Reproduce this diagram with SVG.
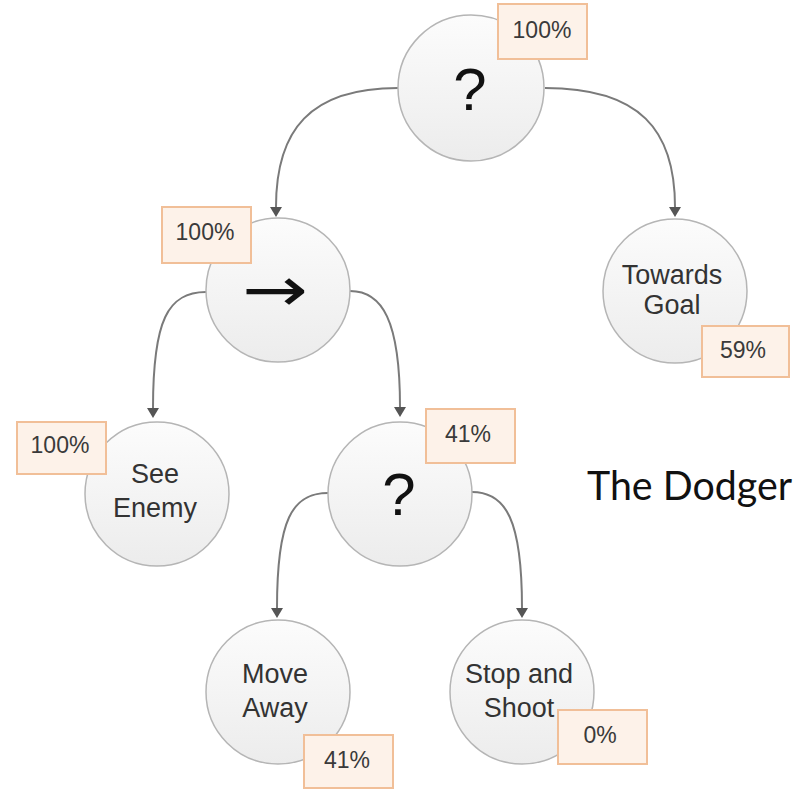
<svg xmlns="http://www.w3.org/2000/svg" width="804" height="791" viewBox="0 0 804 791">
<defs>
<linearGradient id="g" x1="0" y1="0" x2="0" y2="1">
<stop offset="0" stop-color="#fcfcfc"/>
<stop offset="1" stop-color="#ececec"/>
</linearGradient>
<marker id="arr" viewBox="0 0 10 12" refX="0" refY="6" markerWidth="10" markerHeight="12" markerUnits="userSpaceOnUse" orient="auto">
<path d="M0,0 L10,6 L0,12 Z" fill="#555"/>
</marker>
<style>
.c{fill:url(#g);stroke:#b5b5b5;stroke-width:1.5}
.e{fill:none;stroke:#7a7a7a;stroke-width:2}
.b{fill:#fdf2e9;stroke:#f1bf98;stroke-width:2}
.t{font-family:"Liberation Sans",Arial,sans-serif;font-size:27px;fill:#333;text-anchor:middle}
.q{font-family:"Liberation Sans",Arial,sans-serif;font-size:60px;fill:#111;text-anchor:middle}
.p{font-family:"Liberation Sans",Arial,sans-serif;font-size:23px;fill:#3a3a3a;text-anchor:middle}
</style>
</defs>
<rect width="804" height="791" fill="#fff"/>
<g id="connectors">
<path class="e" d="M398,88 C310,88 276,130 276,207" marker-end="url(#arr)"/>
<path class="e" d="M545,88 C640,88 675,130 675,207" marker-end="url(#arr)"/>
<path class="e" d="M206,292 C168,292 153,320 153,408" marker-end="url(#arr)"/>
<path class="e" d="M350,291 C382,291 400,320 400,407" marker-end="url(#arr)"/>
<path class="e" d="M328,493 C292,493 277,520 277,608" marker-end="url(#arr)"/>
<path class="e" d="M472,492 C506,492 522,520 522,608" marker-end="url(#arr)"/>
</g>
<g id="root">
<circle class="c" cx="471" cy="88" r="73"/>
<text class="q" x="470" y="110">?</text>
<rect class="b" x="498" y="4" width="89" height="55"/>
<text class="p" x="542" y="38">100%</text>
</g>
<g id="sequence">
<circle class="c" cx="278" cy="290" r="72"/>
<text x="275" y="311" font-family="DejaVu Sans,sans-serif" font-size="62" fill="#111" text-anchor="middle" textLength="66" lengthAdjust="spacingAndGlyphs">→</text>
<rect class="b" x="162" y="207" width="89" height="56"/>
<text class="p" x="205" y="240">100%</text>
</g>
<g id="towards-goal">
<circle class="c" cx="675" cy="291" r="72"/>
<text class="t" x="672" y="284">Towards</text>
<text class="t" x="672" y="314">Goal</text>
<rect class="b" x="702" y="326" width="87" height="51"/>
<text class="p" x="743" y="358">59%</text>
</g>
<g id="see-enemy">
<circle class="c" cx="157" cy="494" r="72"/>
<text class="t" x="155" y="483">See</text>
<text class="t" x="155" y="517">Enemy</text>
<rect class="b" x="17" y="422" width="89" height="52"/>
<text class="p" x="60" y="453">100%</text>
</g>
<g id="selector">
<circle class="c" cx="400" cy="494" r="72"/>
<text class="q" x="399" y="515">?</text>
<rect class="b" x="426" y="409" width="89" height="54"/>
<text class="p" x="468" y="442">41%</text>
</g>
<g id="move-away">
<circle class="c" cx="278" cy="692" r="72"/>
<text class="t" x="275" y="683">Move</text>
<text class="t" x="275" y="717">Away</text>
<rect class="b" x="304" y="735" width="89" height="53"/>
<text class="p" x="347" y="768">41%</text>
</g>
<g id="stop-and-shoot">
<circle class="c" cx="522" cy="692" r="72"/>
<text class="t" x="519" y="683">Stop and</text>
<text class="t" x="519" y="717">Shoot</text>
<rect class="b" x="558" y="710" width="89" height="54"/>
<text class="p" x="600" y="743">0%</text>
</g>
<text x="587" y="500" font-family="Lato,'Open Sans',sans-serif" font-size="41" fill="#111" textLength="205" lengthAdjust="spacingAndGlyphs">The Dodger</text>
</svg>
